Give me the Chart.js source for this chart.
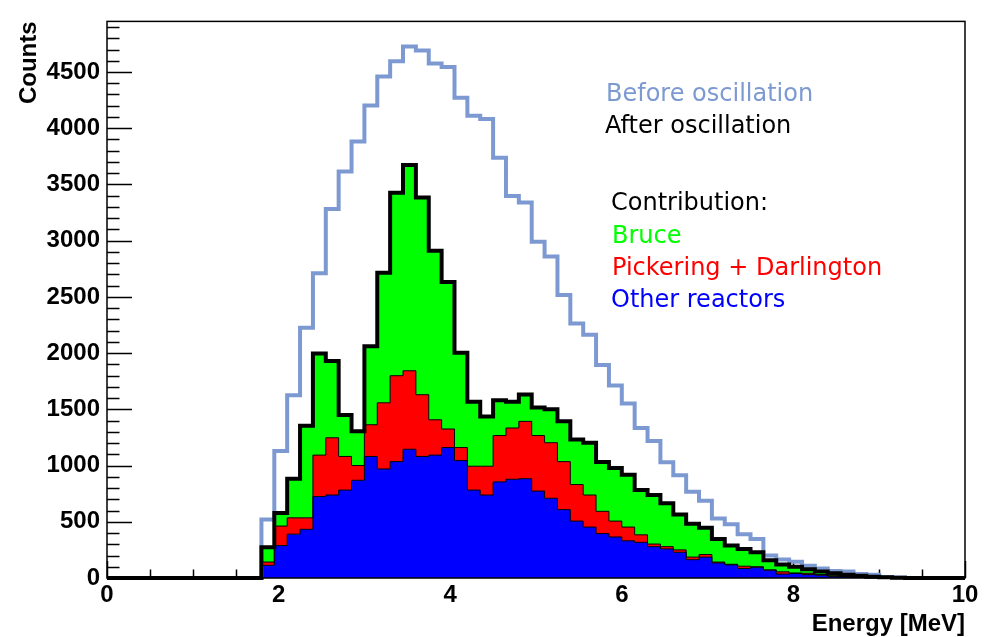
<!DOCTYPE html>
<html>
<head>
<meta charset="utf-8">
<title>Reactor antineutrino spectrum</title>
<script src="https://cdn.jsdelivr.net/npm/chart.js@4.4.1/dist/chart.umd.min.js"></script>
<style>
  html, body { margin: 0; padding: 0; background: #fff; }
  #wrap { width: 985px; height: 637px; position: relative; }
</style>
</head>
<body>
<div id="wrap"><canvas id="spectrum"></canvas></div>
<script>
// Histogram bins: lower edges in MeV, width 0.15 MeV
var binWidth = 0.15;
var binLow = [1.8, 1.95, 2.1, 2.25, 2.4, 2.55, 2.7, 2.85, 3.0, 3.15,
              3.3, 3.45, 3.6, 3.75, 3.9, 4.05, 4.2, 4.35, 4.5, 4.65,
              4.8, 4.95, 5.1, 5.25, 5.4, 5.55, 5.7, 5.85, 6.0, 6.15,
              6.3, 6.45, 6.6, 6.75, 6.9, 7.05, 7.2, 7.35, 7.5, 7.65,
              7.8, 7.95, 8.1, 8.25, 8.4, 8.55, 8.7, 8.85, 9.0, 9.15];

// Counts per bin
var beforeOsc = [520, 1130, 1625, 2226, 2710, 3281, 3616, 3883, 4203, 4459,
                 4595, 4726, 4691, 4575, 4545, 4270, 4110, 4081, 3738, 3398,
                 3340, 2991, 2860, 2517, 2264, 2163, 1895, 1712, 1552, 1334,
                 1218, 1029, 913, 767, 686, 529, 477, 390, 346, 201,
                 165, 145, 110, 85, 62, 58, 35, 30, 10, 5];
var otherReactors = [113, 288, 390, 433, 724, 738, 782, 869, 1081, 970,
                     1035, 1145, 1081, 1093, 1160, 1044, 782, 738, 855, 878,
                     883, 773, 709, 608, 506, 453, 395, 365, 331, 317,
                     279, 259, 229, 163, 186, 134, 117, 85, 96, 70,
                     35, 40, 30, 25, 15, 10, 6, 4, 2, 1];
var pickeringDarlington = [29, 174, 145, 102, 369, 509, 299, 131, 282, 588,
                           764, 698, 549, 314, 165, 116, 212, 256, 412, 456,
                           510, 494, 494, 427, 325, 285, 198, 141, 122, 67,
                           23, 20, 21, 23, 23, 8, 5, 20, 4, 2,
                           20, 5, 12, 5, 5, 2, 2, 1, 0, 0];
var bruce = [131, 116, 348, 819, 904, 683, 369, 305, 698, 1157,
             1628, 1831, 1753, 1503, 1308, 843, 573, 442, 314, 233,
             240, 250, 297, 358, 401, 465, 439, 472, 465, 398,
             436, 386, 314, 296, 238, 204, 166, 154, 129, 85,
             64, 54, 36, 28, 22, 18, 12, 7, 4, 2];

var xTicks = [0, 2, 4, 6, 8, 10];
var yTicks = [0, 500, 1000, 1500, 2000, 2500, 3000, 3500, 4000, 4500];

var legendLines = [
  { text: 'Before oscillation', color: '#7d99d1', x: 606, y: 101 },
  { text: 'After oscillation', color: '#000000', x: 605, y: 133 },
  { text: 'Contribution:', color: '#000000', x: 611, y: 210 },
  { text: 'Bruce', color: '#00ff00', x: 612, y: 243 },
  { text: 'Pickering + Darlington', color: '#ff0000', x: 612, y: 275 },
  { text: 'Other reactors', color: '#0000ff', x: 611, y: 307 }
];

// Turn bin contents into step points (left edges), closed with zeros
function toSteps(vals) {
  var pts = [{ x: 0, y: 0 }];
  for (var i = 0; i < binLow.length; i++) pts.push({ x: binLow[i], y: vals[i] });
  var lastEdge = +(binLow[binLow.length - 1] + binWidth).toFixed(2);
  pts.push({ x: lastEdge, y: 0 });
  pts.push({ x: 10, y: 0 });
  return pts;
}

var tickFont = { family: "'Liberation Sans', Arial, sans-serif", size: 24, weight: 'bold' };

// Inward ROOT-style tick marks, drawn under the histograms
var axisTicks = {
  id: 'axisTicks',
  beforeDraw: function (chart) {
    var ctx = chart.ctx, a = chart.chartArea;
    var xs = chart.scales.x, ys = chart.scales.y;
    ctx.save();
    ctx.strokeStyle = '#000';
    ctx.lineWidth = 1.5;
    ctx.beginPath();
    for (var k = 0; k <= 20; k++) {
      var px = Math.round(xs.getPixelForValue(k * 0.5)) + 0.5;
      var len = (k % 4 === 0) ? 17 : 8.5;
      ctx.moveTo(px, a.bottom);
      ctx.lineTo(px, a.bottom - len);
    }
    for (var j = 0; j <= 49; j++) {
      var py = Math.round(ys.getPixelForValue(j * 100)) + 0.5;
      var ylen = (j % 5 === 0) ? 25 : 12.5;
      ctx.moveTo(a.left, py);
      ctx.lineTo(a.left + ylen, py);
    }
    ctx.stroke();
    ctx.restore();
  },
  afterDraw: function (chart) {
    var ctx = chart.ctx, a = chart.chartArea;
    ctx.save();
    // frame
    ctx.strokeStyle = '#000';
    ctx.lineWidth = 1.5;
    ctx.strokeRect(a.left, a.top, a.right - a.left, a.bottom - a.top);
    // axis titles
    ctx.fillStyle = '#000';
    ctx.font = "bold 24px 'Liberation Sans', Arial, sans-serif";
    ctx.textAlign = 'right';
    ctx.textBaseline = 'alphabetic';
    ctx.fillText('Energy [MeV]', a.right, 631);
    ctx.translate(36, 0);
    ctx.rotate(-Math.PI / 2);
    ctx.fillText('Counts', -a.top, 0);
    ctx.restore();
    // legend text
    ctx.save();
    ctx.font = "24px 'DejaVu Sans', sans-serif";
    ctx.textAlign = 'left';
    ctx.textBaseline = 'alphabetic';
    legendLines.forEach(function (l) {
      ctx.fillStyle = l.color;
      ctx.fillText(l.text, l.x, l.y);
    });
    ctx.restore();
  }
};

var common = { stepped: 'before', pointRadius: 0, tension: 0, clip: 6 };

new Chart(document.getElementById('spectrum'), {
  type: 'line',
  data: {
    datasets: [
      Object.assign({
        label: 'Other reactors', data: toSteps(otherReactors), stack: 'after',
        backgroundColor: '#0000ff', borderColor: '#000', borderWidth: 1, fill: 'origin'
      }, common),
      Object.assign({
        label: 'Pickering + Darlington', data: toSteps(pickeringDarlington), stack: 'after',
        backgroundColor: '#ff0000', borderColor: '#000', borderWidth: 1, fill: '-1'
      }, common),
      Object.assign({
        label: 'Bruce', data: toSteps(bruce), stack: 'after',
        backgroundColor: '#00ff00', borderColor: '#000', borderWidth: 4, fill: '-1'
      }, common),
      Object.assign({
        label: 'Before oscillation', data: toSteps(beforeOsc), stack: 'before',
        borderColor: '#7d99d1', borderWidth: 4, fill: false
      }, common)
    ]
  },
  options: {
    responsive: true,
    maintainAspectRatio: false,
    animation: false,
    layout: { padding: { top: 10, right: 20, left: 0, bottom: 0 } },
    plugins: {
      legend: { display: false },
      tooltip: { enabled: false },
      filler: { drawTime: 'beforeDatasetsDraw' }
    },
    scales: {
      x: {
        type: 'linear', min: 0, max: 10,
        grid: { display: false, drawTicks: false },
        border: { display: false },
        afterFit: function (s) { s.height = 59; },
        afterBuildTicks: function (s) { s.ticks = xTicks.map(function (v) { return { value: v }; }); },
        ticks: {
          color: '#000', font: tickFont, padding: 3, maxRotation: 0, autoSkip: false,
          callback: function (v) { return String(v); }
        }
      },
      y: {
        stacked: true, min: 0, max: 4950,
        grid: { display: false, drawTicks: false },
        border: { display: false },
        afterFit: function (s) { s.width = 107; },
        afterBuildTicks: function (s) { s.ticks = yTicks.map(function (v) { return { value: v }; }); },
        ticks: {
          color: '#000', font: tickFont, padding: 7, autoSkip: false,
          callback: function (v) { return String(v); }
        }
      }
    }
  },
  plugins: [axisTicks]
});
</script>
</body>
</html>
